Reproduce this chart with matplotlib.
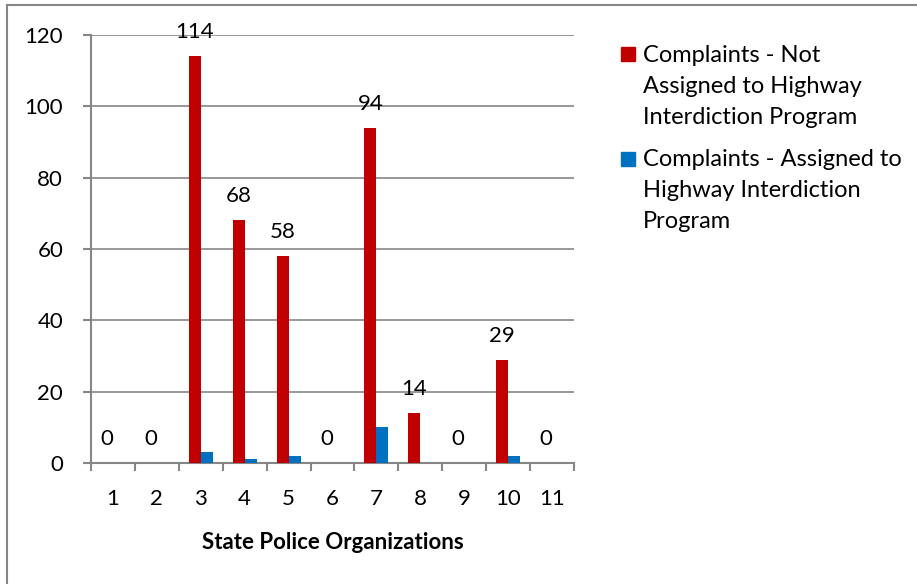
import matplotlib.pyplot as plt
import matplotlib.lines as mlines
import matplotlib.patches as mpatches
import numpy as np

plt.rcParams['font.family'] = ['Lato', 'DejaVu Sans']

# data
orgs = ['1', '2', '3', '4', '5', '6', '7', '8', '9', '10', '11']
not_assigned = [0, 0, 114, 68, 58, 0, 94, 14, 0, 29, 0]
assigned = [0, 0, 3, 1, 2, 0, 10, 0, 0, 2, 0]
yticks = [0, 20, 40, 60, 80, 100, 120]
labels = ['Complaints - Not\nAssigned to Highway\nInterdiction Program',
          'Complaints - Assigned to\nHighway Interdiction\nProgram']

red = '#c00000'
blue = '#0070c0'
grid_col = '#868686'
fs = 16

W, H = 917, 584
fig = plt.figure(figsize=(W / 100, H / 100), dpi=100)
ax = fig.add_axes([91 / W, 1 - 463 / H, (574 - 91) / W, (463 - 35) / H])

x = np.arange(len(orgs))
w = 0.273
ax.bar(x - w / 2, not_assigned, w, color=red, zorder=3)
ax.bar(x + w / 2, assigned, w, color=blue, zorder=3)

# value labels on the red bars only
for xi, v in zip(x, not_assigned):
    ax.annotate(str(v), (xi - w / 2, v), xytext=(0, 13), textcoords='offset points',
                ha='center', va='baseline', fontsize=fs)

ax.set_xlim(-0.5, len(orgs) - 0.5)
ax.set_ylim(0, 120)
ax.set_yticks(yticks)
ax.set_xticks(x)
ax.set_xticklabels(orgs)
ax.set_xticks(np.arange(len(orgs) + 1) - 0.5, minor=True)
ax.tick_params(axis='x', which='major', length=0, pad=19, labelsize=fs)
ax.tick_params(axis='x', which='minor', length=6, width=1.5, color=grid_col)
ax.tick_params(axis='y', length=6, width=1.5, color=grid_col, pad=14, labelsize=fs)
ax.yaxis.grid(True, color=grid_col, linewidth=1.2, zorder=0)
for s in ['top', 'right']:
    ax.spines[s].set_visible(False)
for s in ['left', 'bottom']:
    ax.spines[s].set_color(grid_col)
    ax.spines[s].set_linewidth(1.5)

ax.set_xlabel('State Police Organizations', fontsize=fs, fontweight='bold', labelpad=16)

# legend drawn by hand: square aligned with the first line of wrapped text
for lab, col, ytop, ytxt in zip(labels, [red, blue], [47, 152], [54, 158]):
    fig.add_artist(mpatches.Rectangle((621 / W, 1 - (ytop + 14) / H), 14 / W, 14 / H,
                                      color=col, transform=fig.transFigure))
    fig.text(643 / W, 1 - (ytxt - 9) / H, lab, fontsize=17, va='top', ha='left',
             linespacing=1.58)

# chart border (left and top edges visible)
fig.add_artist(mlines.Line2D([7 / W, 7 / W], [0, 1 - 5 / H], color=grid_col, lw=1.5))
fig.add_artist(mlines.Line2D([7 / W, 1], [1 - 5 / H, 1 - 5 / H], color=grid_col, lw=1.5))

fig.savefig('out.png', dpi=100)
